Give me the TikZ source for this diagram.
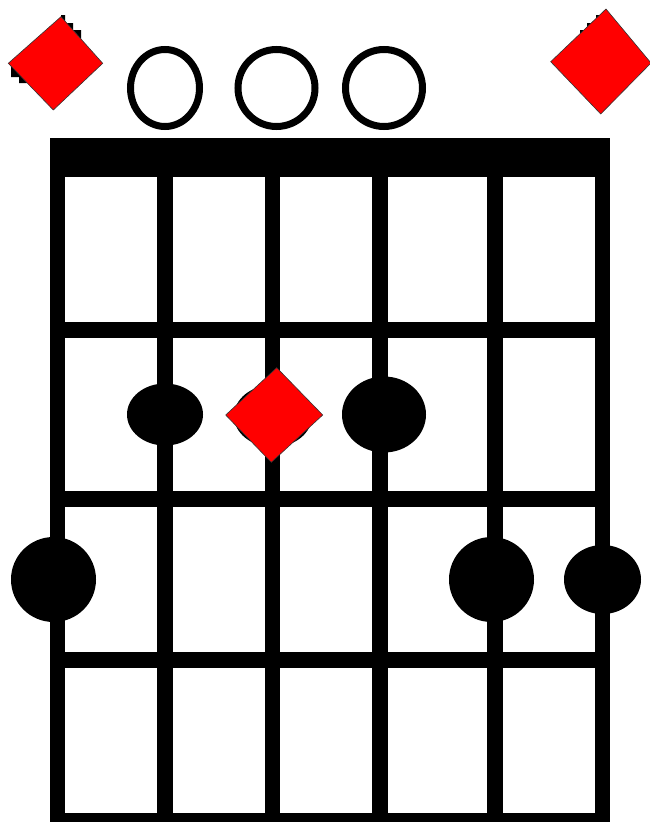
\documentclass[tikz,border=0pt]{standalone}
\usetikzlibrary{shapes.geometric}
\begin{document}
\begin{tikzpicture}[x=1pt,y=-1pt,
  dot/.style={ellipse,fill=black,draw=none,inner sep=0pt},
  openmark/.style={ellipse,draw=black,line width=7pt,fill=none,inner sep=0pt},
  rootmark/.style={fill=red,draw=black!80,line width=0.6pt}]
\useasboundingbox (0,0) rectangle (650,822);
\fill[white] (0,0) rectangle (650,822);
% nut
\fill[black] (50,138) rectangle (610,177);
% strings
\foreach \a/\b in {50/65,157/173,265/280,372/388,487/503,595/610}
  \fill[black] (\a,177) rectangle (\b,822);
% frets
\fill[black] (50,322) rectangle (610,338);
\fill[black] (50,491) rectangle (610,507);
\fill[black] (50,652) rectangle (610,668);
\fill[black] (50,813) rectangle (610,822);
% open strings
\node[openmark,minimum width=69pt,minimum height=77pt] (o2) at (165,88) {};
\node[openmark,minimum width=77pt,minimum height=77pt] (o3) at (276.5,88) {};
\node[openmark,minimum width=77pt,minimum height=77pt] (o4) at (384,88) {};
% fret-2 row
\node[dot,minimum width=76pt,minimum height=62pt] (f2a) at (165,414.5) {};
\node[dot,minimum width=78pt,minimum height=62pt] (f2b) at (273,416) {};
\node[dot,minimum width=84pt,minimum height=76pt] (f2c) at (384,414.5) {};
% fret-3 row
\node[dot,minimum width=85pt,minimum height=85pt] (f3a) at (53.5,579.5) {};
\node[dot,minimum width=85pt,minimum height=85pt] (f3b) at (491.5,579.5) {};
\node[dot,minimum width=77pt,minimum height=69pt] (f3c) at (602.5,579.5) {};
% black bits peeking behind top diamonds
\fill[black] (61,16.7) -- (61,15) -- (65,15) -- (65,23) -- (73,23) -- (73,30) -- (81,30) -- (81,39) -- cycle;
\fill[black] (9,64) -- (11,66) -- (11,77) -- (19,77) -- (19,83) -- (27,83) -- (27,81) -- cycle;
\fill[black] (606,9) -- (600,15) -- (596,15) -- (596,23) -- (587,23) -- (587,30) -- (580,30) -- (580,34) -- cycle;
% root diamonds
\filldraw[rootmark] (61,16.7) -- (102.7,63.3) -- (53.3,110) -- (8.3,63.3) -- cycle;
\filldraw[rootmark] (606,9) -- (651,63) -- (600.7,114) -- (550.7,61.7) -- cycle;
\filldraw[rootmark] (276.7,367.7) -- (322.7,415) -- (271.3,462.3) -- (225.7,415) -- cycle;
\end{tikzpicture}
\end{document}
